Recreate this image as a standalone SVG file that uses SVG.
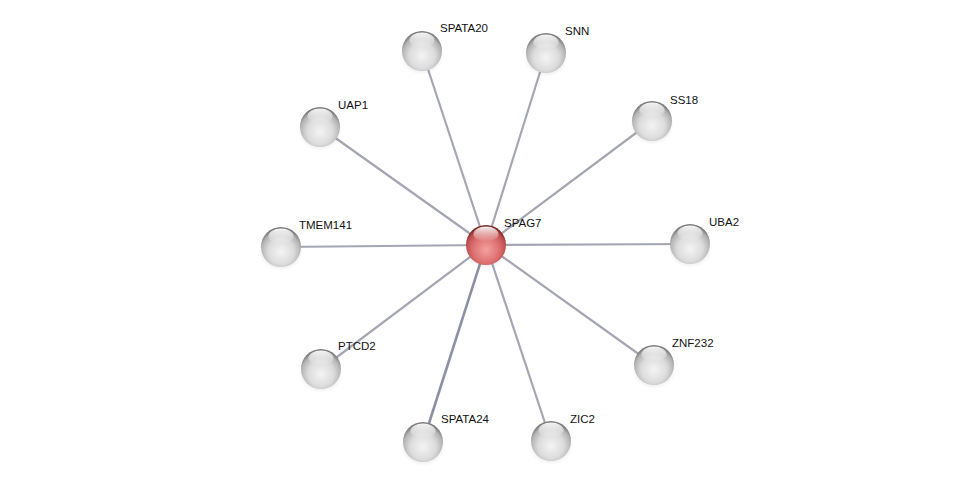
<svg xmlns="http://www.w3.org/2000/svg" width="976" height="487" viewBox="0 0 976 487">
<defs>
<radialGradient id="gGray" cx="0.5" cy="0.62" r="0.58">
<stop offset="0" stop-color="#f4f4f4"/>
<stop offset="0.55" stop-color="#dcdcdc"/>
<stop offset="0.85" stop-color="#b4b4b4"/>
<stop offset="1" stop-color="#7c7c7c"/>
</radialGradient>
<radialGradient id="gRed" cx="0.5" cy="0.62" r="0.58">
<stop offset="0" stop-color="#f5a0a0"/>
<stop offset="0.55" stop-color="#de7272"/>
<stop offset="0.85" stop-color="#c05050"/>
<stop offset="1" stop-color="#7e2626"/>
</radialGradient>
<linearGradient id="hl" x1="0" y1="0" x2="0" y2="1">
<stop offset="0" stop-color="#ffffff" stop-opacity="0.95"/>
<stop offset="1" stop-color="#ffffff" stop-opacity="0"/>
</linearGradient>
<radialGradient id="sh" cx="0.5" cy="0.5" r="0.5">
<stop offset="0" stop-color="#000" stop-opacity="0.25"/>
<stop offset="1" stop-color="#000" stop-opacity="0"/>
</radialGradient>
</defs>
<style>
.e{stroke:#a4a6b4;stroke-width:2.2;fill:none}
.lbl{font-family:"Liberation Sans",Arial,sans-serif;font-size:11.5px;fill:#111}
.g{fill:url(#gGray)}
.r{fill:url(#gRed)}
.h{fill:url(#hl)}
.s{fill:url(#sh)}
</style>
<rect width="976" height="487" fill="#fff"/>
<g id="edges">
<line class="e" x1="486" y1="245" x2="422" y2="51"/>
<line class="e" x1="486" y1="245" x2="546" y2="53"/>
<line class="e" x1="486" y1="245" x2="652" y2="121"/>
<line class="e" x1="486" y1="245" x2="320" y2="127"/>
<line class="e" x1="486" y1="245" x2="281" y2="247"/>
<line class="e" x1="486" y1="245" x2="690" y2="244"/>
<line class="e" x1="486" y1="245" x2="321" y2="369"/>
<line class="e" x1="486" y1="245" x2="654" y2="365"/>
<line class="e" x1="486" y1="245" x2="423" y2="442" style="stroke:#8c90a4;stroke-width:2.6"/>
<line class="e" x1="486" y1="245" x2="551" y2="441"/>
</g>
<g id="SPATA20"><ellipse class="s" cx="422" cy="56" rx="22" ry="19"/><circle class="g" cx="422" cy="51" r="20"/><ellipse class="h" cx="422" cy="40" rx="12.5" ry="7.5"/><text class="lbl" x="440" y="32">SPATA20</text></g>
<g id="SNN"><ellipse class="s" cx="546" cy="58" rx="22" ry="19"/><circle class="g" cx="546" cy="53" r="20"/><ellipse class="h" cx="546" cy="42" rx="12.5" ry="7.5"/><text class="lbl" x="565" y="35">SNN</text></g>
<g id="SS18"><ellipse class="s" cx="652" cy="126" rx="22" ry="19"/><circle class="g" cx="652" cy="121" r="20"/><ellipse class="h" cx="652" cy="110" rx="12.5" ry="7.5"/><text class="lbl" x="670" y="104">SS18</text></g>
<g id="UAP1"><ellipse class="s" cx="320" cy="132" rx="22" ry="19"/><circle class="g" cx="320" cy="127" r="20"/><ellipse class="h" cx="320" cy="116" rx="12.5" ry="7.5"/><text class="lbl" x="338" y="109">UAP1</text></g>
<g id="TMEM141"><ellipse class="s" cx="281" cy="252" rx="22" ry="19"/><circle class="g" cx="281" cy="247" r="20"/><ellipse class="h" cx="281" cy="236" rx="12.5" ry="7.5"/><text class="lbl" x="299" y="229">TMEM141</text></g>
<g id="UBA2"><ellipse class="s" cx="690" cy="249" rx="22" ry="19"/><circle class="g" cx="690" cy="244" r="20"/><ellipse class="h" cx="690" cy="233" rx="12.5" ry="7.5"/><text class="lbl" x="709" y="226">UBA2</text></g>
<g id="PTCD2"><ellipse class="s" cx="321" cy="374" rx="22" ry="19"/><circle class="g" cx="321" cy="369" r="20"/><ellipse class="h" cx="321" cy="358" rx="12.5" ry="7.5"/><text class="lbl" x="338" y="350">PTCD2</text></g>
<g id="ZNF232"><ellipse class="s" cx="654" cy="370" rx="22" ry="19"/><circle class="g" cx="654" cy="365" r="20"/><ellipse class="h" cx="654" cy="354" rx="12.5" ry="7.5"/><text class="lbl" x="672" y="347">ZNF232</text></g>
<g id="SPATA24"><ellipse class="s" cx="423" cy="447" rx="22" ry="19"/><circle class="g" cx="423" cy="442" r="20"/><ellipse class="h" cx="423" cy="431" rx="12.5" ry="7.5"/><text class="lbl" x="441" y="423">SPATA24</text></g>
<g id="ZIC2"><ellipse class="s" cx="551" cy="446" rx="22" ry="19"/><circle class="g" cx="551" cy="441" r="20"/><ellipse class="h" cx="551" cy="430" rx="12.5" ry="7.5"/><text class="lbl" x="570" y="423">ZIC2</text></g>
<g id="SPAG7"><ellipse class="s" cx="486" cy="250" rx="22" ry="19"/><circle class="r" cx="486" cy="245" r="20"/><ellipse class="h" cx="486" cy="234" rx="12.5" ry="7.5"/><text class="lbl" x="504" y="227">SPAG7</text></g>
</svg>
